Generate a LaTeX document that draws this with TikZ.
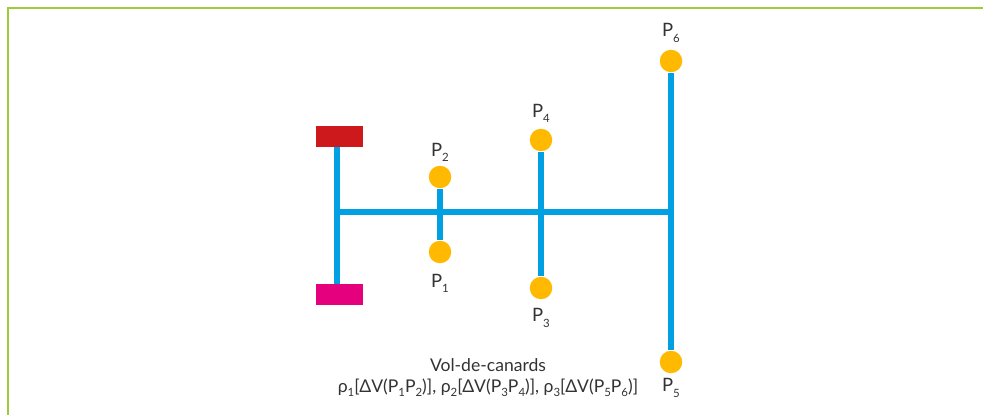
\documentclass[tikz,border=0pt]{standalone}
\usepackage{fontspec}
\setmainfont{Lato}
\usepackage{tikz}
\usetikzlibrary{positioning}
\definecolor{mBlue}{HTML}{00A0E3}
\definecolor{mYellow}{HTML}{FFB900}
\definecolor{mRed}{HTML}{CD181C}
\definecolor{mMagenta}{HTML}{E5007D}
\definecolor{mGreen}{HTML}{9CCB3B}
\newcommand{\lowsub}[1]{\raisebox{-0.55ex}{\fontsize{6.5}{8}\selectfont #1}}
\tikzset{
  pole/.style={circle, fill=mYellow, minimum size=0.45cm, inner sep=0pt},
  wing/.style={rectangle, minimum width=0.94cm, minimum height=0.42cm, inner sep=0pt},
  shaft/.style={mBlue, line width=3.4pt},
  lbl/.style={font=\fontsize{10.5}{13}\selectfont, text=black!80, inner sep=0pt},
}

\begin{document}
\begin{tikzpicture}[x=0.02cm, y=-0.02cm]
    \useasboundingbox (0,0) rectangle (983,415);
    \draw[mGreen, line width=1.2pt] (8,415) -- (8,8) -- (983,8);
    % wings
    \node[wing, fill=mRed] (front) at (339.5,136.5) {};
    \node[wing, fill=mMagenta] (rear) at (339.5,294.5) {};
    % poles
    \node[pole] (p1) at (440,252) {};
    \node[pole] (p2) at (440,177) {};
    \node[pole] (p3) at (541,288) {};
    \node[pole] (p4) at (541,140) {};
    \node[pole] (p5) at (671,362) {};
    \node[pole] (p6) at (671,61) {};
    \coordinate (jl) at (337,212);
    \coordinate (jr) at (671,212);
    \draw[shaft] (front.south -| jl) -- (rear.north -| jl);
    \draw[shaft] (jl) -- (jr);
    \draw[shaft] (p1) -- (p2);
    \draw[shaft] (p3) -- (p4);
    \draw[shaft] (p5) -- (p6);
    % labels
    \node[lbl] (l1) at (440,283) {P\lowsub{1}};
    \node[lbl] (l2) at (440,152) {P\lowsub{2}};
    \node[lbl] (l3) at (541,318) {P\lowsub{3}};
    \node[lbl] (l4) at (541,113) {P\lowsub{4}};
    \node[lbl] (l5) at (671,388) {P\lowsub{5}};
    \node[lbl] (l6) at (671,33) {P\lowsub{6}};
    \node[lbl, font=\fontsize{10}{12.5}\selectfont, align=center] (cap) at (488,378)
      {Vol-de-canards\\[-1pt]
       ρ\lowsub{1}[ΔV(P\lowsub{1}P\lowsub{2})],
       ρ\lowsub{2}[ΔV(P\lowsub{3}P\lowsub{4})],
       ρ\lowsub{3}[ΔV(P\lowsub{5}P\lowsub{6})]};
\end{tikzpicture}
\end{document}
